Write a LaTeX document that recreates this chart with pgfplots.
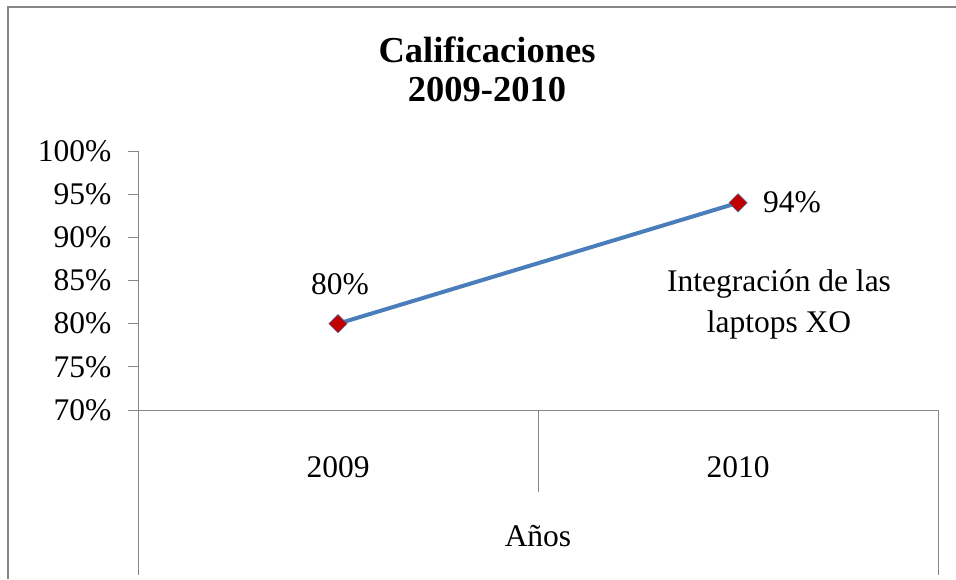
\documentclass[border=0pt]{standalone}
\usepackage{fontspec}
\setmainfont{Liberation Serif}
\usepackage{pgfplots}
\pgfplotsset{compat=1.18}

\definecolor{bordergray}{HTML}{868686}
\definecolor{lineblue}{HTML}{4A7EBB}
\definecolor{markred}{HTML}{C00000}
\newcommand{\chartfont}{\fontsize{31.5}{37}\selectfont}

\begin{document}
\begin{tikzpicture}
\useasboundingbox (0pt,0pt) rectangle (956pt,579pt);
% outer chart border (cropped at right and bottom)
\draw[bordergray, line width=2pt] (8pt,0pt) -- (8pt,572pt) -- (956pt,572pt);
% title
\node[anchor=base, font=\fontsize{36.5}{40}\selectfont\bfseries] at (487pt,516pt) {Calificaciones};
\node[anchor=base, font=\fontsize{36.5}{40}\selectfont\bfseries] at (487pt,477pt) {2009-2010};

\begin{axis}[
    at={(138pt,169pt)}, anchor=south west,
    scale only axis, width=800pt, height=259pt,
    xmin=-0.5, xmax=1.5, ymin=70, ymax=100,
    axis x line*=bottom, axis y line*=left,
    axis line style={-, draw=bordergray, line width=0.8pt},
    xtick={0,1}, xticklabels={2009,2010},
    ytick={70,75,...,100},
    yticklabel={\pgfmathprintnumber{\tick}\%},
    /pgf/number format/assume math mode=true,
    tick align=outside, major tick length=10pt,
    xtick style={draw=none},
    ytick style={draw=bordergray, line width=0.8pt},
    tick label style={font=\chartfont},
    yticklabel style={anchor=east, xshift=-13pt},
    xticklabel style={anchor=base, yshift=-57pt},
    xlabel={Años},
    xlabel style={font=\chartfont, at={(axis description cs:0.5,0)}, anchor=base, yshift=-136pt},
    clip=false,
]
\addplot[lineblue, line width=4pt, mark=square*, mark size=6.5pt,
    mark options={fill=markred, draw=lineblue, line width=0.5pt, rotate=45}]
    coordinates {(0,80) (1,94)};
% category boundaries below the axis
\draw[bordergray, line width=0.8pt] (axis cs:-0.5,70) -- ++(0pt,-165pt);
\draw[bordergray, line width=0.8pt] (axis cs:0.5,70) -- ++(0pt,-82pt);
\draw[bordergray, line width=0.8pt] (axis cs:1.5,70) -- ++(0pt,-165pt);
\end{axis}

% data labels and annotation
\node[anchor=base, font=\chartfont] at (340pt,284pt) {80\%};
\node[anchor=base west, font=\chartfont, inner sep=0pt] at (763pt,366pt) {94\%};
\node[anchor=base, font=\chartfont] at (779pt,287pt) {Integración de las};
\node[anchor=base, font=\chartfont] at (779pt,246pt) {laptops XO};
\end{tikzpicture}
\end{document}
